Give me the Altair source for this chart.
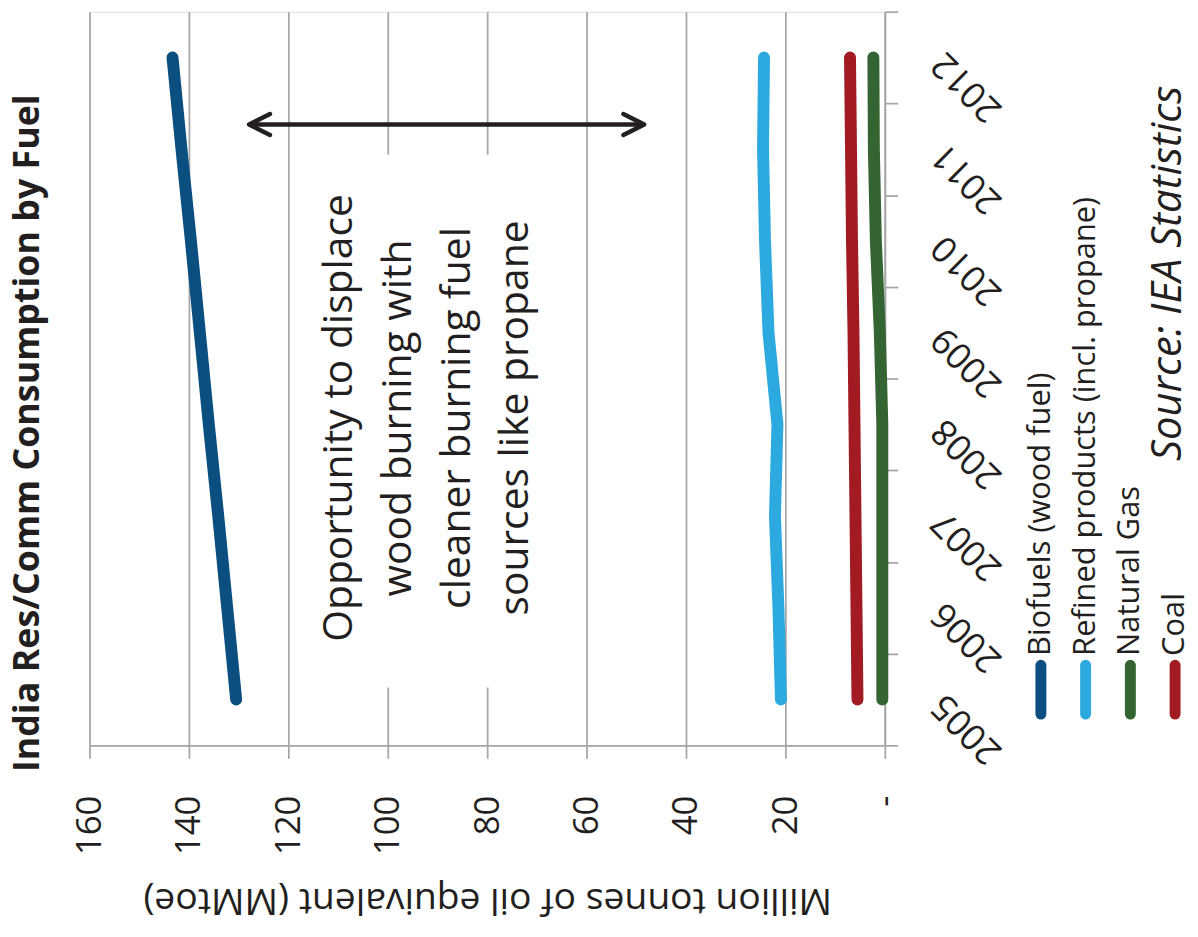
import altair as alt
import pandas as pd

# ---------------- data ----------------
years = [2005, 2006, 2007, 2008, 2009, 2010, 2011, 2012]
biofuels = [130.5, 132.3, 134.1, 136.0, 137.8, 139.6, 141.5, 143.3]
refined_products = [20.9, 21.4, 22.1, 21.6, 23.4, 24.1, 24.5, 24.3]
natural_gas = [0.5, 0.5, 0.5, 0.5, 1.0, 1.8, 2.2, 2.3]
coal = [5.5, 5.7, 5.9, 6.1, 6.3, 6.6, 6.8, 7.0]

series_names = ["Biofuels (wood fuel)", "Refined products (incl. propane)", "Natural Gas", "Coal"]
series_colors = ["#0B4F80", "#2CA9DE", "#336432", "#A21A22"]

value_ticks = [0, 20, 40, 60, 80, 100, 120, 140, 160]
year_band_edges = [2004.5, 2005.5, 2006.5, 2007.5, 2008.5, 2009.5, 2010.5, 2011.5, 2012.5]

title_text = "India Res/Comm Consumption by Fuel"
value_axis_title = "Million tonnes of oil equivalent (MMtoe)"
note_lines = ["Opportunity to displace", "wood burning with", "cleaner burning fuel", "sources like propane"]
source_text = "Source: IEA Statistics"

# annotation anchors (data units)
arrow_from, arrow_to, arrow_year = 127.9, 48.4, 2011.27
box_left, box_right, box_top, box_bottom = 119.3, 60.7, 2010.94, 2005.13
note_value, note_year = 109.5, 2008.07

# ---------------- styles ----------------
FONT = "Open Sans"
INK = "#231F20"
GRID = "#A6A6A6"

df = pd.DataFrame({
    "year": years * 4,
    "value": biofuels + refined_products + natural_gas + coal,
    "series": [s for s in series_names for _ in years],
})

x_scale = alt.Scale(domain=[0, 160], reverse=True, nice=False, zero=False)
x_axis = alt.Axis(
    values=value_ticks,
    labelExpr="datum.value == 0 ? '-\u2007' : datum.label",
    labelAngle=-90, labelAlign="right", labelBaseline="middle",
    labelFontSize=35, labelPadding=37, labelColor=INK, labelFont=FONT,
    labelFlush=False, labelOverlap=False,
    tickSize=13, tickColor=GRID, tickWidth=1.75,
    domainColor=GRID, domainWidth=1.75,
    grid=True, gridColor=GRID, gridWidth=1.75,
    title=value_axis_title, titleAngle=180, titleBaseline="alphabetic",
    titleY=144, titleFontSize=37.5, titleFontWeight="normal", titleColor=INK, titleFont=FONT,
)
y_scale = alt.Scale(domain=[2004.5, 2012.5], nice=False, zero=False)
y_axis = alt.Axis(
    orient="right", values=year_band_edges,
    labelExpr="datum.value < 2005 ? '' : toString(floor(datum.value))",
    labelOffset=46, labelAngle=-135, labelAlign="right", labelBaseline="middle",
    labelFontSize=36, labelPadding=40, labelColor=INK, labelFont=FONT,
    labelOverlap=False, labelFlush=False, labelBound=False,
    tickSize=13, tickColor=GRID, tickWidth=1.75,
    domainColor=GRID, domainWidth=1.75, grid=False, title=None,
)


def X(field):
    return alt.X(f"{field}:Q", scale=x_scale, axis=x_axis)


def Y(field):
    return alt.Y(f"{field}:Q", scale=y_scale, axis=y_axis)


color_scale = alt.Scale(domain=series_names, range=series_colors)

box = alt.Chart(pd.DataFrame({"x1": [box_left], "x2": [box_right], "y1": [box_top], "y2": [box_bottom]})).mark_rect(
    color="white"
).encode(x=X("x1"), x2=alt.X2("x2"), y=Y("y1"), y2=alt.Y2("y2"))

lines = alt.Chart(df).mark_line(strokeWidth=12, strokeCap="round", strokeJoin="round").encode(
    x=X("value"), y=Y("year"),
    color=alt.Color("series:N", scale=color_scale, legend=None),
    order=alt.Order("year:Q"),
)

shaft = alt.Chart(pd.DataFrame({"a": [arrow_from], "b": [arrow_to], "yr": [arrow_year]})).mark_rule(
    strokeWidth=4.5, color=INK
).encode(x=X("a"), x2=alt.X2("b"), y=Y("yr"))

heads = alt.Chart(pd.DataFrame({"v": [arrow_from, arrow_to], "yr": [arrow_year] * 2, "side": ["left", "right"]})).mark_point(
    filled=False, strokeWidth=4.5, size=1764, color=INK, opacity=1, strokeCap="round", strokeJoin="round"
).encode(
    x=X("v"), y=Y("yr"),
    shape=alt.Shape("side:N", scale=alt.Scale(domain=["left", "right"],
                                             range=["M 1 -0.5 L 0 0 L 1 0.5", "M -1 -0.5 L 0 0 L -1 0.5"]),
                    legend=None),
)

note = alt.Chart(pd.DataFrame({"v": [note_value], "yr": [note_year]})).mark_text(
    text=note_lines, angle=270, align="center", baseline="middle",
    fontSize=41, lineHeight=59, font=FONT, color=INK,
).encode(x=X("v"), y=Y("yr"))

main = alt.layer(box, lines, shaft, heads, note)

leg_df = pd.DataFrame({"series": series_names})
leg_x = alt.X("series:N", scale=alt.Scale(type="point", domain=series_names, range=[957, 1092], padding=0), axis=None)
leg_rules = alt.Chart(leg_df).mark_rule(strokeWidth=11, strokeCap="round").encode(
    x=leg_x, y=alt.value(657.5), y2=alt.value(706.5),
    color=alt.Color("series:N", scale=color_scale, legend=None),
)
leg_text = alt.Chart(leg_df).mark_text(
    angle=270, align="left", baseline="middle", fontSize=31, font=FONT, color=INK
).encode(x=leg_x, y=alt.value(648), text="series:N")
legend = alt.layer(leg_rules, leg_text)

source = alt.Chart(pd.DataFrame({"t": [source_text]})).mark_text(
    angle=270, align="left", baseline="alphabetic", fontSize=42, fontStyle="italic", font=FONT, color=INK
).encode(x=alt.value(1098), y=alt.value(452), text="t:N")

chart = (
    alt.layer(main, legend, source)
    .resolve_scale(x="independent")
    .properties(
        width=800, height=738, padding={"left": 1, "top": 0, "right": 0, "bottom": 4},
        title=alt.TitleParams(title_text, orient="left", anchor="middle", frame="group",
                              fontSize=36, fontWeight="bold", font=FONT, color=INK, offset=26, dx=-55),
    )
    .configure_view(stroke=None)
    .configure(font=FONT, background="white")
)

chart.save("out.html", embed_options={"renderer": "svg", "actions": False})
